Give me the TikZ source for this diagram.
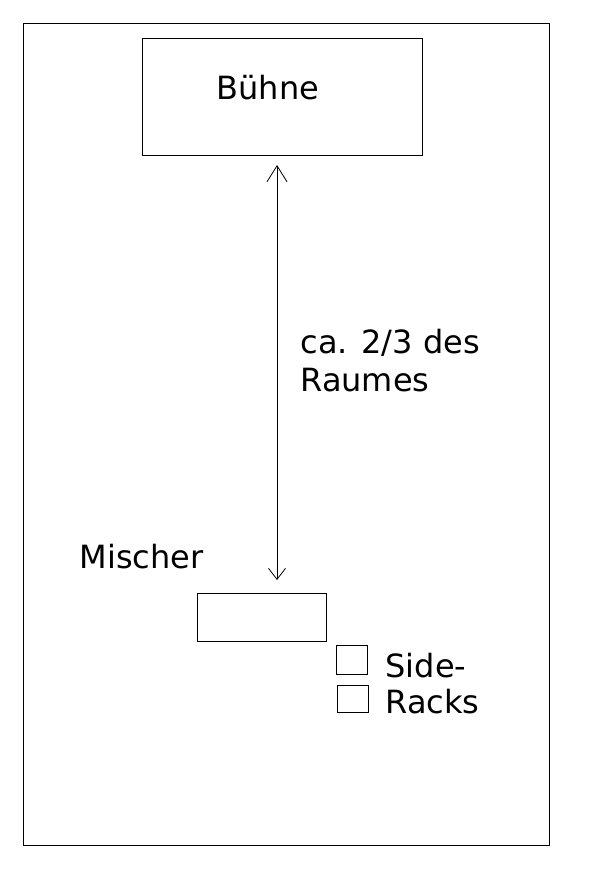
\documentclass[tikz,border=0pt]{standalone}
\usepackage{fontspec}
\setmainfont{DejaVu Sans}
\usetikzlibrary{arrows.meta}
\begin{document}
\begin{tikzpicture}[x=1pt,y=-1pt,line width=1pt,
  box/.style={draw,line width=0.9pt,inner sep=0pt,outer sep=0pt},
  lbl/.style={anchor=base west,inner sep=0pt,font=\fontsize{32}{38}\selectfont}]
\useasboundingbox[fill=white] (0,0) rectangle (605,872);
\node[box,minimum width=526pt,minimum height=822pt] (room) at (286,434) {};
\node[box,minimum width=280pt,minimum height=117pt] (buehne) at (282,96.5) {};
\node[box,minimum width=129pt,minimum height=48pt] (mischer) at (261.5,617) {};
\node[box,minimum width=31pt,minimum height=29pt] (rack1) at (351.5,659.5) {};
\node[box,minimum width=31pt,minimum height=27pt] (rack2) at (352.5,698.5) {};
\node[lbl] (tb) at (216,100) {Bühne};
\node[lbl] (t1) at (300,353) {ca. 2/3 des};
\node[lbl] (t2) at (300,391) {Raumes};
\node[lbl] (tm) at (79,568) {Mischer};
\node[lbl] (ts) at (385,677) {Side-};
\node[lbl] (tr) at (385,713) {Racks};
\coordinate (atop) at (277,165);
\coordinate (abot) at (277,580);
\draw[line width=0.8pt,{Straight Barb[length=16pt,width=20pt]}-{Straight Barb[length=11pt,width=17pt]}] (atop) -- (abot);
\end{tikzpicture}
\end{document}
